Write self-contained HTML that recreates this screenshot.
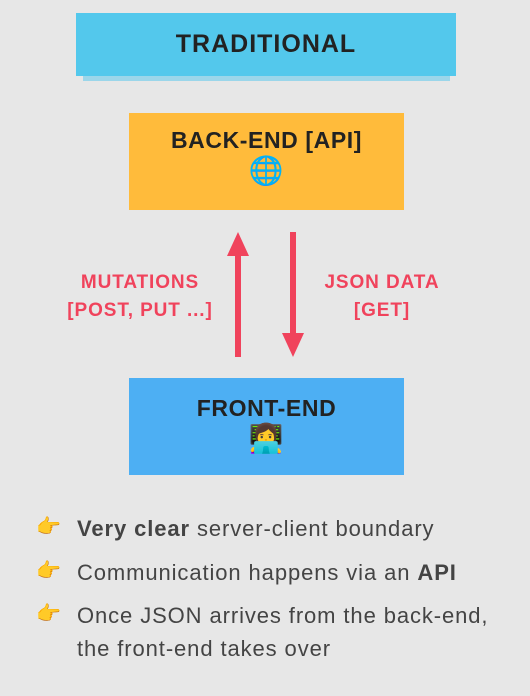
<!DOCTYPE html>
<html><head><meta charset="utf-8"><style>
body{margin:0;width:530px;height:696px;background:#e7e7e7;position:relative;overflow:hidden;font-family:"Liberation Sans",sans-serif}
.a{position:absolute}
.box{position:absolute;display:flex;flex-direction:column;align-items:center;color:#222;font-weight:bold;font-size:23px;letter-spacing:0.6px}
.lbl{position:absolute;color:#f0435c;font-weight:bold;font-size:19px;letter-spacing:0.9px;text-align:center;line-height:28px;width:220px}
.li{position:absolute;left:77px;font-size:22px;letter-spacing:0.9px;color:#444;line-height:33px;white-space:nowrap}
.em{position:absolute;left:36px;font-size:20px}
</style></head><body>
<div class="a" style="left:83px;top:70px;width:367px;height:11px;background:#9bd6ea"></div>
<div class="box" style="left:76px;top:13px;width:380px;height:63px;background:#53c8ec;justify-content:center;font-size:25px;letter-spacing:1px">TRADITIONAL</div>
<div class="box" style="left:129px;top:113px;width:275px;height:97px;background:#ffbb3b;padding-top:14px;box-sizing:border-box">BACK-END [API]<div style="font-size:28px;margin-top:0px">🌐</div></div>
<div class="box" style="left:129px;top:378px;width:275px;height:97px;background:#4daff3;padding-top:17px;box-sizing:border-box">FRONT-END<div style="font-size:28px;margin-top:0px">👩‍💻</div></div>
<svg class="a" style="left:0;top:0" width="530" height="696">
<rect x="235" y="252" width="6" height="105" fill="#f0435c"/>
<polygon points="238,232 227,256 249,256" fill="#f0435c"/>
<rect x="290" y="232" width="6" height="105" fill="#f0435c"/>
<polygon points="293,357 282,333 304,333" fill="#f0435c"/>
</svg>
<div class="lbl" style="left:30px;top:269px">MUTATIONS<br>[POST, PUT ...]</div>
<div class="lbl" style="left:272px;top:269px">JSON DATA<br>[GET]</div>
<div class="em" style="top:514px">👉</div>
<div class="li" style="top:512px"><b>Very clear</b> server-client boundary</div>
<div class="em" style="top:558px">👉</div>
<div class="li" style="top:556px">Communication happens via an <b>API</b></div>
<div class="em" style="top:601px">👉</div>
<div class="li" style="top:599px">Once JSON arrives from the back-end,<br>the front-end takes over</div>
</body></html>
